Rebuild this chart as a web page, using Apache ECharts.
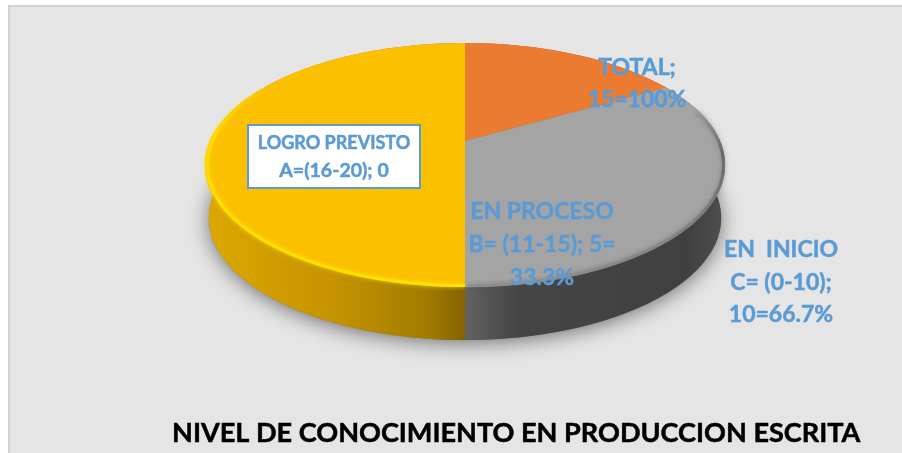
<!DOCTYPE html>
<html><head><meta charset="utf-8">
<style>html,body{margin:0;padding:0;background:#fff}#c{width:902px;height:453px}</style>
<script src="https://cdn.jsdelivr.net/npm/echarts@6/dist/echarts.min.js"></script>
</head><body><div id="c"></div>
<script>
const categories = ['LOGRO PREVISTO', 'EN PROCESO', 'EN INICIO', 'TOTAL'];
const values = [0, 5, 10, 15];
const topColors = ['#5B9BD5', '#EA7B30', '#A4A4A4', '#FBC000'];
const sideStops = [
  [[0, '#5B9BD5'], [1, '#5B9BD5']],
  [[0, '#A85A20'], [1, '#A85A20']],
  [[0, '#626262'], [0.2, '#454545'], [0.85, '#404040'], [1, '#4E4E4E']],
  [[0, '#DDA800'], [0.5, '#C49300'], [0.85, '#A27B00'], [1, '#846400']]
];
const titleText = 'NIVEL DE CONOCIMIENTO EN PRODUCCION ESCRITA';
const labelTotal = ['TOTAL;', '15=100%'];
const labelProceso = ['EN PROCESO', 'B= (11-15); 5=', '33.3%'];
const labelInicio = ['EN  INICIO', 'C= (0-10);', '10=66.7%'];
const labelLogro = ['LOGRO PREVISTO', 'A=(16-20); 0'];

// perspective view of the pie disc
const cx = 465, cy = 141, A = 117.3, B = 255, k = 0.197, depth = 53, shrink = 0.985;
const sum = values.reduce((a, b) => a + b, 0);
function rim(t, drop, inset) {
  const u = Math.sin(t) * (inset || 1), v = -Math.cos(t) * (inset || 1), w = 1 - k * v;
  const x = cx + B * u / w, y = cy + A * v / w;
  return drop ? [cx + (x - cx) * shrink, y + depth] : [x, y];
}
function arc(a0, a1, drop, inset) {
  const n = Math.max(2, Math.ceil(Math.abs(a1 - a0) / 0.02)), pts = [];
  for (let i = 0; i <= n; i++) pts.push(rim(a0 + (a1 - a0) * i / n, drop, inset));
  return pts;
}
function span(i) {
  let s = 0;
  for (let j = 0; j < i; j++) s += values[j];
  return [s / sum * 2 * Math.PI, (s + values[i]) / sum * 2 * Math.PI];
}
const grad = (stops, horizontal) => ({
  type: 'linear', x: 0, y: 0, x2: horizontal ? 1 : 0, y2: horizontal ? 0 : 1,
  colorStops: stops.map(s => ({ offset: s[0], color: s[1] }))
});

function baseItem(params) {
  const pts = arc(0, 2 * Math.PI, true);
  return { type: 'polygon', shape: { points: pts },
    style: { fill: '#777', shadowBlur: 20, shadowColor: 'rgba(0,0,0,0.5)', shadowOffsetY: 3 } };
}
function sideItem(params) {
  const i = params.dataIndex, [a0, a1] = span(i);
  if (values[i] === 0) return null;
  const pts = arc(a0, a1, false).concat(arc(a1, a0, true));
  return { type: 'polygon', shape: { points: pts }, style: { fill: grad(sideStops[i], true) } };
}
function topItem(params) {
  const i = params.dataIndex, [a0, a1] = span(i);
  if (values[i] === 0) return null;
  const pts = [[cx, cy]].concat(arc(a0, a1, false));
  return { type: 'polygon', shape: { points: pts }, style: { fill: topColors[i] } };
}
function bevelItem(params) {
  const i = params.dataIndex;
  if (i === 2) {
    const [a0, a1] = span(i);
    return { type: 'polyline', shape: { points: arc(a0 + 0.25, a1, false, 0.994) },
      style: { fill: 'none', lineWidth: 3, opacity: 0.7,
        stroke: grad([[0, '#A4A4A4'], [0.25, '#555555'], [0.5, '#6E6E6E'], [1, '#8C8C8C']], false),
        shadowBlur: 5, shadowColor: 'rgba(70,70,70,0.6)' } };
  }
  if (i === 3) {
    const [a0] = span(i);
    return { type: 'polyline', shape: { points: arc(a0, a0 + 2.1, false, 0.992) },
      style: { fill: 'none', lineWidth: 3,
        stroke: grad([[0, 'rgba(255,222,0,0)'], [0.25, '#FFDC00'], [1, '#FFE000']], false),
        shadowBlur: 4, shadowColor: 'rgba(255,225,0,0.9)' } };
  }
  return null;
}
const custom = (renderItem, data, z) => ({ type: 'custom', coordinateSystem: 'none', renderItem, data, z, silent: true, clip: false, animation: false });
const rows = categories.map((c, i) => ({ name: c, value: values[i] }));

const lblStyle = { fontFamily: 'Lato', fontWeight: 'bold', fill: '#5B9BD5', stroke: '#5B9BD5', lineWidth: 0.5, align: 'center', verticalAlign: 'middle' };
function lines(list, x, y0, step, size) {
  return list.map((t, i) => ({ type: 'text', z: 20, x, y: y0 + i * step,
    style: Object.assign({ text: t, fontSize: Array.isArray(size) ? size[i] : size }, lblStyle) }));
}
const chart = echarts.init(document.getElementById('c'), null, { renderer: 'canvas' });
chart.setOption({
  animation: false,
  backgroundColor: '#FFFFFF',
  title: { text: titleText, left: 167, top: 415,
    textStyle: { fontFamily: 'Lato', fontWeight: 'bold', fontSize: 27.1, color: '#000', textBorderColor: '#000', textBorderWidth: 0.5 } },
  graphic: [
    { type: 'rect', z: -1, shape: { x: 9, y: 6, width: 910, height: 460 },
      style: { fill: '#E5E5E5', stroke: '#D2D2D2', lineWidth: 2 } },
    { type: 'rect', z: 19, shape: { x: 248, y: 125, width: 172, height: 63 },
      style: { fill: '#FFFFFF', stroke: '#5B9BD5', lineWidth: 2 } },
    ...lines(labelLogro, 334, 143, 28, [18, 19.5]),
    ...lines(labelTotal, 637, 68, 32, 23),
    ...lines(labelProceso, 542, 212, 33, 23),
    ...lines(labelInicio, 781, 250, 32.5, 23)
  ],
  series: [
    custom(baseItem, [{ name: 'base', value: sum }], 1),
    custom(sideItem, rows, 2),
    custom(topItem, rows, 3),
    custom(bevelItem, rows, 4)
  ]
});
</script></body></html>
